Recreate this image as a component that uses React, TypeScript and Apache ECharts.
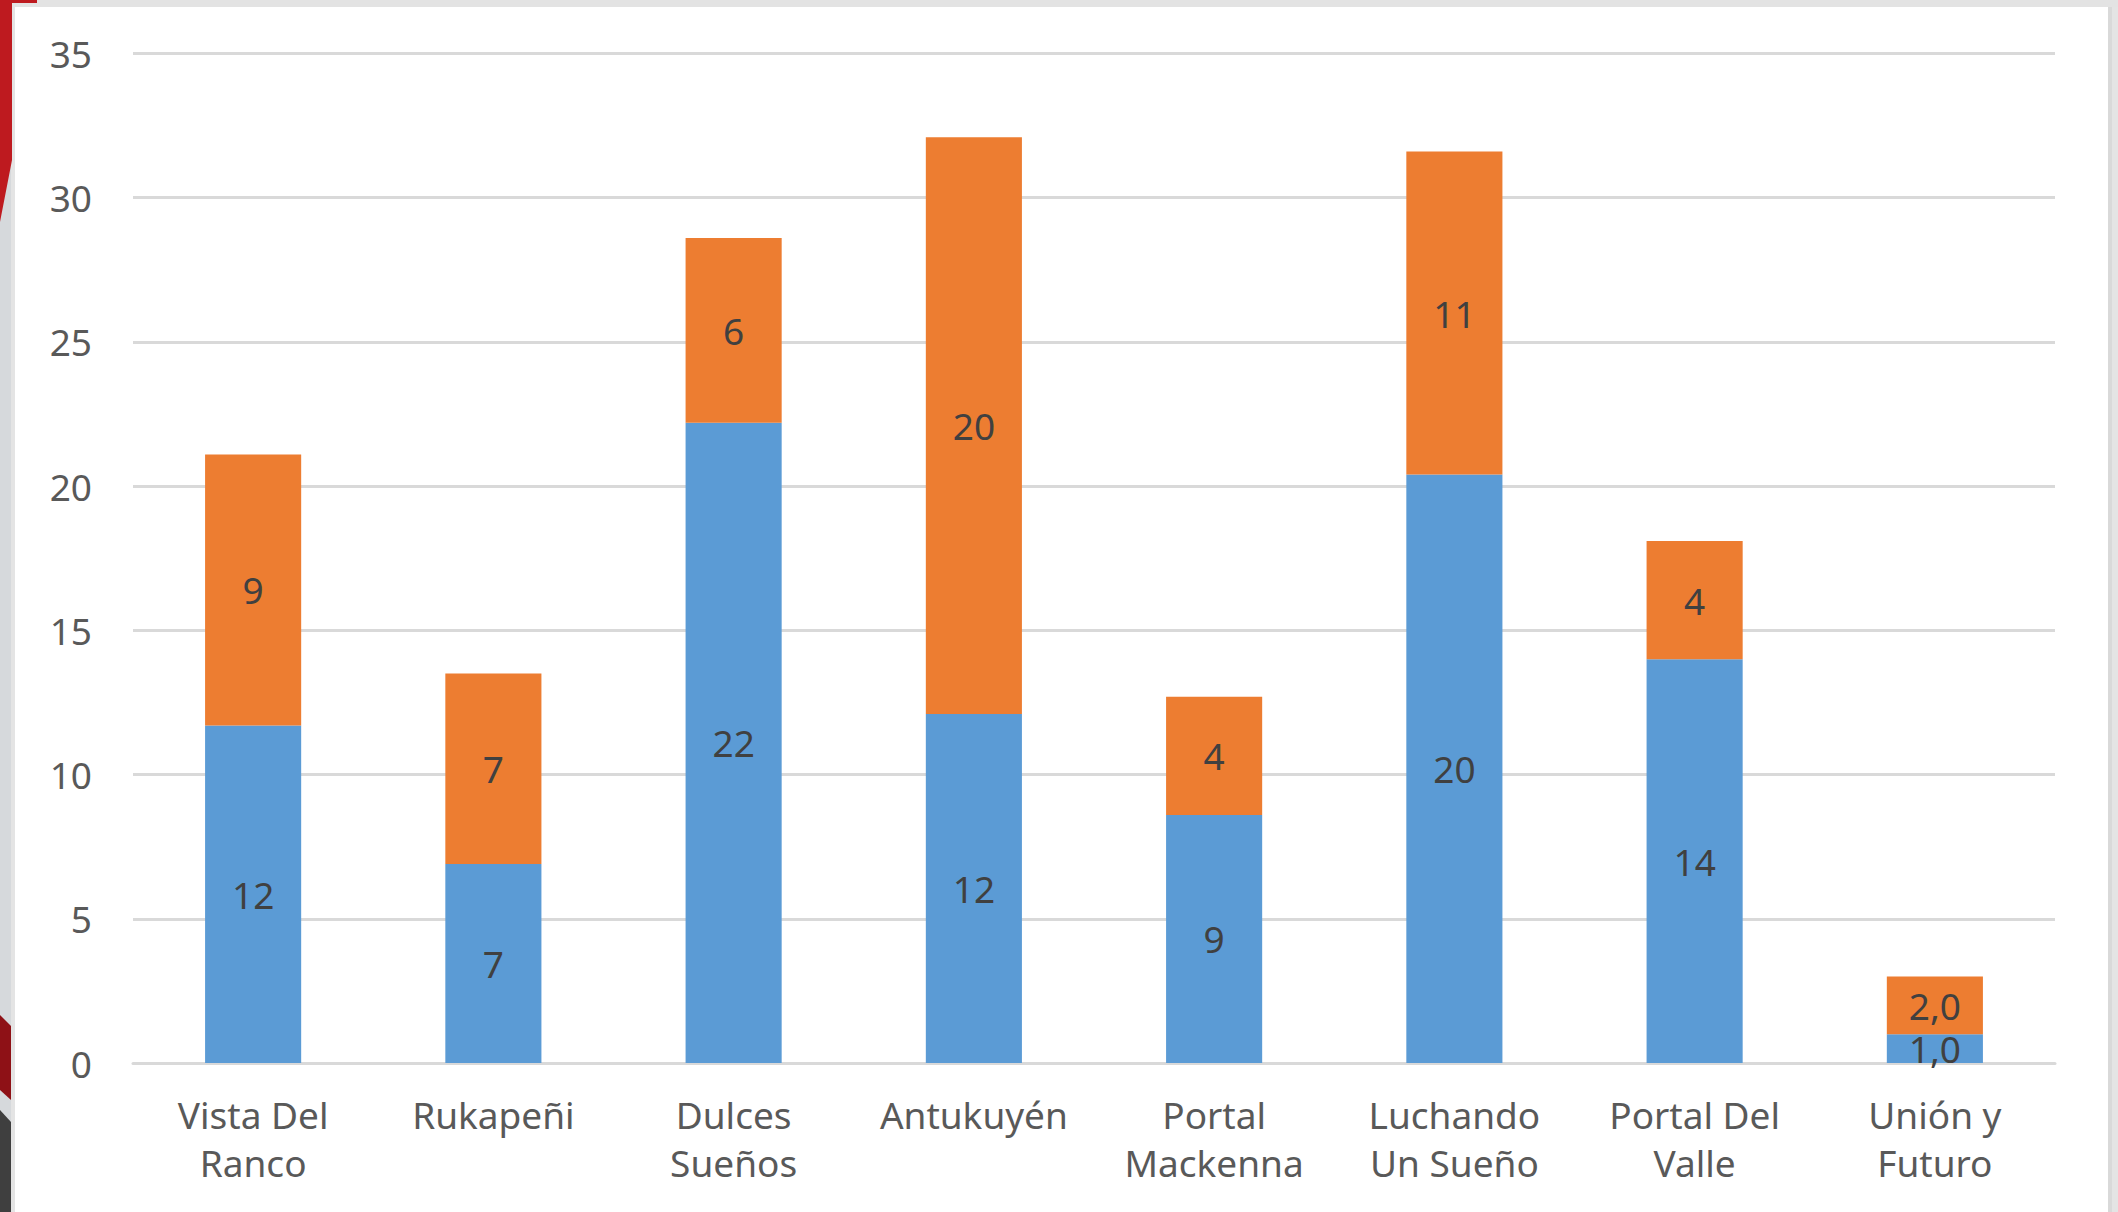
import React, { useEffect, useRef } from "react";
import * as echarts from "echarts";

const categories = [
  "Vista Del\nRanco",
  "Rukapeñi",
  "Dulces\nSueños",
  "Antukuyén",
  "Portal\nMackenna",
  "Luchando\nUn Sueño",
  "Portal Del\nValle",
  "Unión y\nFuturo",
];
const blueValues = [11.7, 6.9, 22.2, 12.1, 8.6, 20.4, 14.0, 1.0];
const orangeValues = [9.4, 6.6, 6.4, 20.0, 4.1, 11.2, 4.1, 2.0];
const labelDecimals = [0, 0, 0, 0, 0, 0, 0, 1];
const yMin = 0;
const yMax = 35;
const yInterval = 5;

const fmt = (p: any) => {
  const d = labelDecimals[p.dataIndex];
  const v = Number(p.value);
  return d > 0 ? v.toFixed(d).replace(".", ",") : String(Math.round(v));
};

export default function App() {
  const ref = useRef<HTMLDivElement>(null);
  useEffect(() => {
    if (!ref.current) return;
    const chart = echarts.init(ref.current, undefined, { renderer: "svg" });
    const font = "'Noto Sans', 'DejaVu Sans', sans-serif";
    const dataLabel = {
      show: true,
      position: "inside",
      color: "#404040",
      fontSize: 37,
      lineHeight: 28,
      formatter: fmt,
      fontFamily: font,
    };
    chart.setOption({
      animation: false,
      backgroundColor: "#d6d9dc",
      textStyle: { fontFamily: font },
      graphic: [
        { type: "rect", z: -10, silent: true, shape: { x: 0, y: 0, width: 2118, height: 7 }, style: { fill: "#e3e3e3" } },
        { type: "rect", z: -10, silent: true, shape: { x: 11, y: 7, width: 2107, height: 1205 }, style: { fill: "#e4e4e4" } },
        { type: "rect", z: -9, silent: true, shape: { x: 15, y: 7, width: 2093, height: 1205 }, style: { fill: "#ffffff" } },
        { type: "rect", z: -9, silent: true, shape: { x: 2108, y: 7, width: 4, height: 1205 }, style: { fill: "#d9d9d9" } },
        { type: "polygon", z: -9, silent: true, shape: { points: [[0, 0], [37, 0], [37, 3], [12, 3], [12, 160], [0, 222]] }, style: { fill: "#be1a1f" } },
        { type: "polygon", z: -9, silent: true, shape: { points: [[0, 1015], [11, 1026], [11, 1100], [0, 1090]] }, style: { fill: "#8e1116" } },
        { type: "polygon", z: -9, silent: true, shape: { points: [[0, 1110], [11, 1122], [11, 1212], [0, 1212]] }, style: { fill: "#3f3f3f" } },
      ],
      grid: { left: 133, right: 63, top: 53.5, bottom: 149, containLabel: false },
      xAxis: {
        type: "category",
        data: categories,
        axisLine: { show: true, lineStyle: { color: "#d9d9d9", width: 3 } },
        axisTick: { show: false },
        axisLabel: {
          color: "#595959",
          fontSize: 37,
          lineHeight: 48,
          margin: 27,
          interval: 0,
          fontFamily: font,
        },
      },
      yAxis: {
        type: "value",
        min: yMin,
        max: yMax,
        interval: yInterval,
        axisLine: { show: false },
        axisTick: { show: false },
        splitLine: { lineStyle: { color: "#d9d9d9", width: 3 } },
        axisLabel: { color: "#595959", fontSize: 37, margin: 41, fontFamily: font },
      },
      series: [
        {
          type: "bar",
          stack: "total",
          data: blueValues,
          barWidth: "40%",
          itemStyle: { color: "#5b9bd5" },
          label: dataLabel,
        },
        {
          type: "bar",
          stack: "total",
          data: orangeValues,
          barWidth: "40%",
          itemStyle: { color: "#ed7d31" },
          label: dataLabel,
        },
      ],
    });
    return () => chart.dispose();
  }, []);
  return (
    <div
      ref={ref}
      style={{ position: "fixed", left: 0, top: 0, width: 2118, height: 1212 }}
    />
  );
}
